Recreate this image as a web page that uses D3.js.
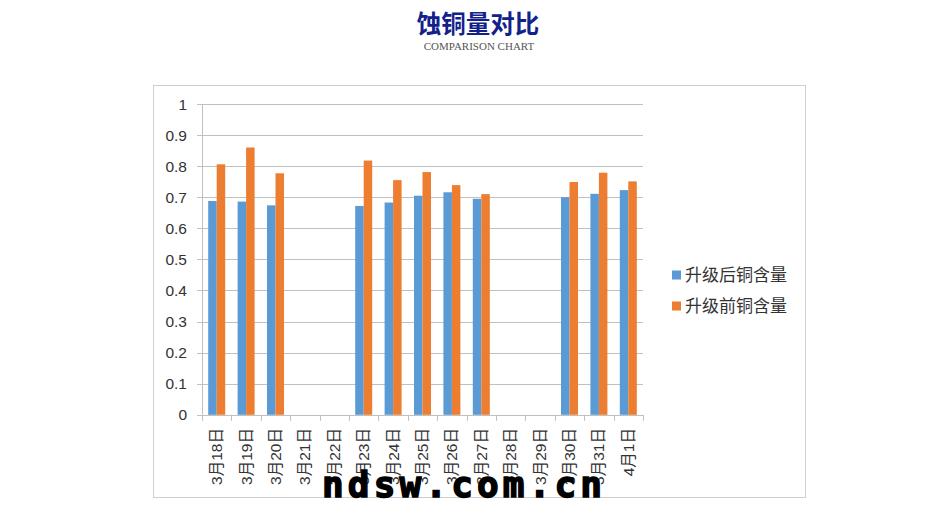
<!DOCTYPE html>
<html><head><meta charset="utf-8">
<script src="https://cdn.jsdelivr.net/npm/d3@7/dist/d3.min.js"></script>
<style>body{margin:0;background:#fff}</style>
</head><body>
<svg id="c" width="930" height="515"></svg>
<script>
const categories = ["3月18日","3月19日","3月20日","3月21日","3月22日","3月23日","3月24日","3月25日","3月26日","3月27日","3月28日","3月29日","3月30日","3月31日","4月1日"];
const afterValues  = [0.688,0.686,0.674,null,null,0.672,0.683,0.705,0.716,0.695,null,null,0.700,0.711,0.723];
const beforeValues = [0.806,0.860,0.777,null,null,0.818,0.755,0.781,0.739,0.710,null,null,0.749,0.779,0.751];
const seriesNames = ["升级后铜含量","升级前铜含量"];
const yTicks = [0,0.1,0.2,0.3,0.4,0.5,0.6,0.7,0.8,0.9,1];
const colors = ["#5b9bd5","#ed7d31"];

const svg = d3.select("#c");
const font = "'Liberation Sans','Noto Sans CJK SC',sans-serif";

svg.append("text").attr("x",478).attr("y",33).attr("text-anchor","middle")
  .attr("font-family","'Noto Sans CJK SC',sans-serif").attr("font-weight","bold")
  .attr("font-size",24.5).attr("fill","#12228a").text("蚀铜量对比");
svg.append("text").attr("x",479).attr("y",50).attr("text-anchor","middle")
  .attr("font-family","'Liberation Serif',serif").attr("font-size",11)
  .attr("fill","#555").text("COMPARISON CHART");

svg.append("rect").attr("x",153.5).attr("y",85.5).attr("width",652).attr("height",412)
  .attr("fill","none").attr("stroke","#cfcfcf");

const x = d3.scaleBand().domain(categories).range([202,643]);
const y = d3.scaleLinear().domain([0,1]).range([414.8,104]);

const g = svg.append("g");
g.selectAll("line.grid").data(yTicks).join("line")
  .attr("x1",197).attr("x2",643).attr("y1",d=>Math.round(y(d))+0.5).attr("y2",d=>Math.round(y(d))+0.5)
  .attr("stroke","#c0c0c0").attr("stroke-width",1);
g.append("line").attr("x1",202.5).attr("x2",202.5).attr("y1",y(1)).attr("y2",y(0)).attr("stroke","#c0c0c0");

g.selectAll("text.yl").data(yTicks).join("text")
  .attr("x",187).attr("y",d=>y(d)+5.5).attr("text-anchor","end")
  .attr("font-family",font).attr("font-size",15.5).attr("fill","#333")
  .text(d=>d3.format("~g")(d));

const tickPos = categories.map(c=>x(c)).concat([x.range()[1]]);
g.selectAll("line.xt").data(tickPos).join("line")
  .attr("x1",d=>Math.round(d)+0.5).attr("x2",d=>Math.round(d)+0.5)
  .attr("y1",y(0)).attr("y2",y(0)+6).attr("stroke","#c0c0c0");

const bw = 8.5;
const series = [afterValues, beforeValues];
series.forEach((vals,si)=>{
  g.selectAll("rect.s"+si).data(categories.map((c,i)=>({c,v:vals[i]})).filter(d=>d.v!=null)).join("rect")
    .attr("x",d=>x(d.c)+x.bandwidth()/2 - bw + si*bw)
    .attr("y",d=>y(d.v)).attr("width",bw).attr("height",d=>y(0)-y(d.v))
    .attr("fill",colors[si]);
});

g.selectAll("text.xl").data(categories).join("text")
  .attr("transform",d=>`translate(${x(d)+x.bandwidth()/2+5.5},${428}) rotate(-90)`)
  .attr("text-anchor","end").attr("font-family",font).attr("font-size",15.5).attr("fill","#333")
  .text(d=>d);

seriesNames.forEach((n,i)=>{
  const ly = 275 + i*31;
  svg.append("rect").attr("x",672).attr("y",ly-4.5).attr("width",9).attr("height",9).attr("fill",colors[i]);
  svg.append("text").attr("x",685).attr("y",ly+6).attr("font-family",font).attr("font-size",17)
    .attr("fill","#333").text(n);
});

svg.append("text").attr("x",322).attr("y",497).attr("font-family","'DejaVu Sans Mono',monospace")
  .attr("font-weight","bold").attr("font-size",36).attr("textLength",280).attr("lengthAdjust","spacing")
  .attr("fill","#000").attr("stroke","#000").attr("stroke-width",1.5).text("ndsw.com.cn");
</script>
</body></html>
